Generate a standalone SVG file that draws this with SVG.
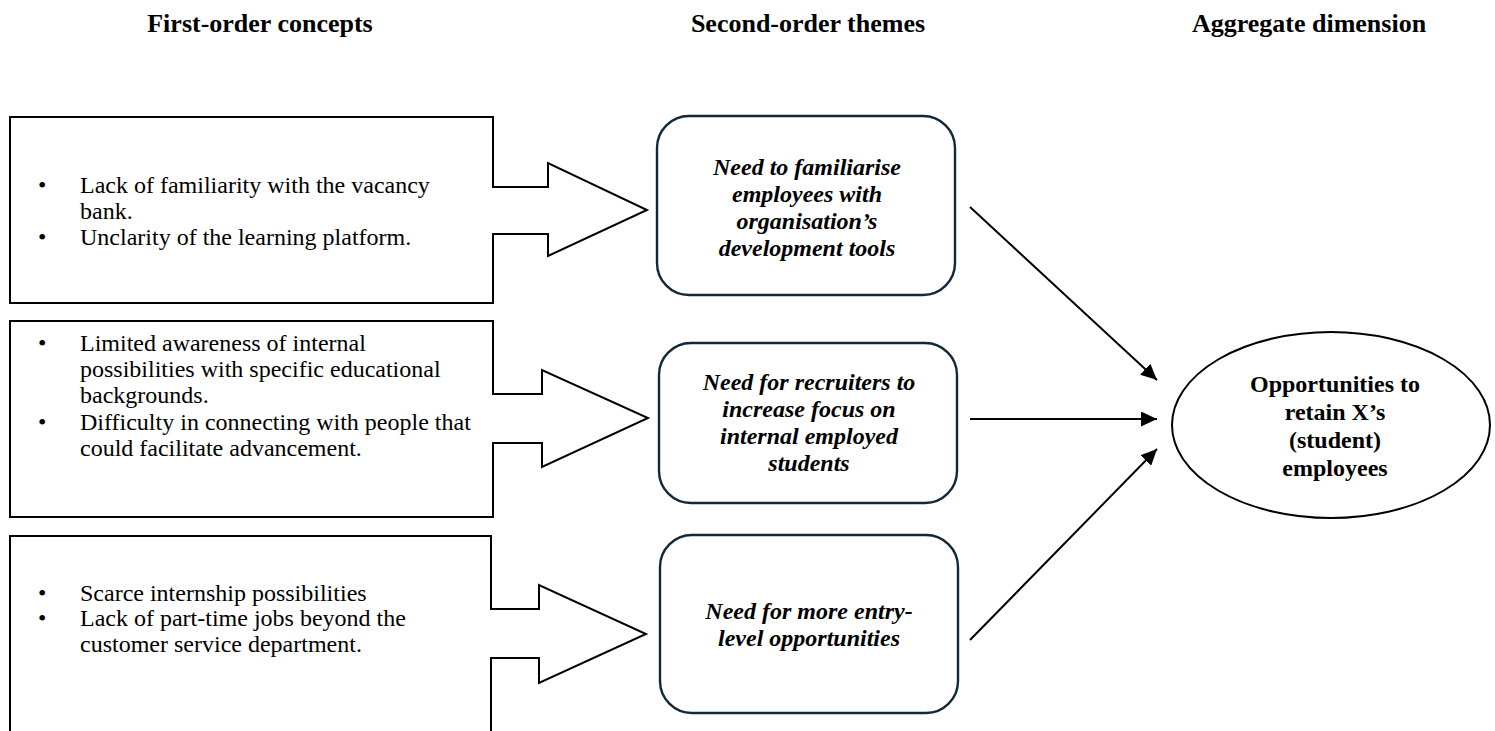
<svg xmlns="http://www.w3.org/2000/svg" width="1495" height="731" viewBox="0 0 1495 731">
  <defs>
    <marker id="arrowhead" viewBox="0 0 16 15" refX="16" refY="7.5" markerWidth="16" markerHeight="15" markerUnits="userSpaceOnUse" orient="auto">
      <path d="M0,0 L16,7.5 L0,15 z" fill="#000"/>
    </marker>
    <style>
      .hdr { font-family: "Liberation Serif", "Times New Roman", serif; font-weight: bold; font-size: 26px; fill: #000; text-anchor: middle; }
      .concept-shape { fill: #fff; stroke: #000; stroke-width: 2; }
      .concept { font-family: "Liberation Serif", "Times New Roman", serif; font-size: 24px; fill: #000; }
      .theme-box { fill: #fff; stroke: #10293a; stroke-width: 2.4; }
      .theme { font-family: "Liberation Serif", "Times New Roman", serif; font-weight: bold; font-style: italic; font-size: 24px; fill: #000; text-anchor: middle; }
      .dim-shape { fill: #fff; stroke: #000; stroke-width: 2; }
      .dim { font-family: "Liberation Serif", "Times New Roman", serif; font-weight: bold; font-size: 24px; fill: #000; text-anchor: middle; }
      .link { stroke: #000; stroke-width: 2; fill: none; }
    </style>
  </defs>
  <rect width="1495" height="731" fill="#fff"/>

  <!-- column headings -->
  <g id="headings">
    <text class="hdr" x="260" y="32">First-order concepts</text>
    <text class="hdr" x="808" y="32">Second-order themes</text>
    <text class="hdr" x="1309" y="32">Aggregate dimension</text>
  </g>

  <!-- first-order concepts: callout boxes with right-pointing arrows -->
  <g id="concept-1">
    <path class="concept-shape" d="M10,117 H493 V187 H548 V163 L647,210 L548,256 V234 H493 V303 H10 Z"/>
    <text class="concept" x="38" y="193">•</text>
    <text class="concept" x="80" y="193">Lack of familiarity with the vacancy</text>
    <text class="concept" x="80" y="219">bank.</text>
    <text class="concept" x="38" y="245">•</text>
    <text class="concept" x="80" y="245">Unclarity of the learning platform.</text>
  </g>

  <g id="concept-2">
    <path class="concept-shape" d="M10,321 H493 V394 H542 V370 L648,418 L542,467 V443 H493 V517 H10 Z"/>
    <text class="concept" x="38" y="351">•</text>
    <text class="concept" x="80" y="351">Limited awareness of internal</text>
    <text class="concept" x="80" y="377">possibilities with specific educational</text>
    <text class="concept" x="80" y="403">backgrounds.</text>
    <text class="concept" x="38" y="430">•</text>
    <text class="concept" x="80" y="430">Difficulty in connecting with people that</text>
    <text class="concept" x="80" y="456">could facilitate advancement.</text>
  </g>

  <g id="concept-3">
    <path class="concept-shape" d="M10,740 V536 H491 V609 H539 V585 L646,634 L539,683 V658 H491 V740"/>
    <text class="concept" x="38" y="601">•</text>
    <text class="concept" x="80" y="601">Scarce internship possibilities</text>
    <text class="concept" x="38" y="626">•</text>
    <text class="concept" x="80" y="626">Lack of part-time jobs beyond the</text>
    <text class="concept" x="80" y="652">customer service department.</text>
  </g>

  <!-- second-order themes -->
  <g id="theme-1">
    <rect class="theme-box" x="657" y="116" width="298" height="179" rx="32" ry="32"/>
    <text class="theme" x="807" y="175">Need to familiarise</text>
    <text class="theme" x="807" y="202">employees with</text>
    <text class="theme" x="807" y="229">organisation’s</text>
    <text class="theme" x="807" y="256">development tools</text>
  </g>

  <g id="theme-2">
    <rect class="theme-box" x="659" y="343" width="298" height="160" rx="32" ry="32"/>
    <text class="theme" x="809" y="390">Need for recruiters to</text>
    <text class="theme" x="809" y="417">increase focus on</text>
    <text class="theme" x="809" y="444">internal employed</text>
    <text class="theme" x="809" y="471">students</text>
  </g>

  <g id="theme-3">
    <rect class="theme-box" x="660" y="535" width="298" height="178" rx="32" ry="32"/>
    <text class="theme" x="809" y="619">Need for more entry-</text>
    <text class="theme" x="809" y="646">level opportunities</text>
  </g>

  <!-- aggregate dimension -->
  <g id="dimension">
    <ellipse class="dim-shape" cx="1331" cy="425" rx="159" ry="93"/>
    <text class="dim" x="1335" y="392">Opportunities to</text>
    <text class="dim" x="1335" y="420">retain X’s</text>
    <text class="dim" x="1335" y="448">(student)</text>
    <text class="dim" x="1335" y="476">employees</text>
  </g>

  <!-- connectors from themes to the aggregate dimension -->
  <g id="connectors">
    <line class="link" x1="970" y1="207" x2="1157" y2="380" marker-end="url(#arrowhead)"/>
    <line class="link" x1="970" y1="419" x2="1157" y2="419" marker-end="url(#arrowhead)"/>
    <line class="link" x1="970" y1="640" x2="1157" y2="449" marker-end="url(#arrowhead)"/>
  </g>
</svg>
